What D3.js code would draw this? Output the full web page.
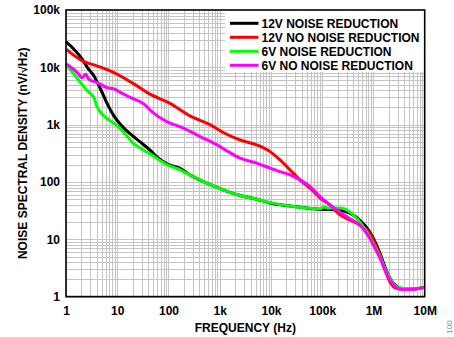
<!DOCTYPE html>
<html>
<head>
<meta charset="utf-8">
<script src="https://cdn.jsdelivr.net/npm/d3@7"></script>
<style>
  html, body { margin: 0; padding: 0; background: #fff; }
  svg { display: block; }
  text { font-family: "Liberation Sans", Arial, sans-serif; font-weight: bold; fill: #000; }
</style>
</head>
<body>
<svg id="chart" width="454" height="337"></svg>
<script>
// ---------- data ----------
const xTickValues = [1, 10, 100, 1e3, 1e4, 1e5, 1e6, 1e7];
const xTickLabels = ["1", "10", "100", "1k", "10k", "100k", "1M", "10M"];
const yTickValues = [1, 10, 100, 1e3, 1e4, 1e5];
const yTickLabels = ["1", "10", "100", "1k", "10k", "100k"];

const seriesNames = ["12V NOISE REDUCTION", "12V NO NOISE REDUCTION", "6V NOISE REDUCTION", "6V NO NOISE REDUCTION"];
const seriesColors = ["#000000", "#ff0000", "#00ff00", "#ff00ff"];

// 12V NOISE REDUCTION
const freq12NR = [1, 1.43, 2.08, 2.6, 3.5, 4.1, 5.1, 6.4, 8.6, 11.7, 18.3, 28, 43.6, 60, 100, 168, 262, 559, 1170, 2500, 5300, 9600, 23600, 58000, 100000, 140000, 220000, 345000, 540000, 845000, 1070000, 1340000, 1680000, 2100000, 2630000, 3300000, 5000000, 8000000, 10000000];
const val12NR  = [27800, 20700, 13800, 10000, 7100, 5400, 3600, 2300, 1420, 1000, 680, 500, 360, 270, 200, 172, 133, 95, 73, 58, 50, 43, 38, 34.5, 33, 33, 32.5, 28.5, 21.7, 13.5, 9.1, 5.7, 3.3, 2.1, 1.6, 1.4, 1.35, 1.4, 1.45];

// 12V NO NOISE REDUCTION
const freq12NNR = [1, 2.08, 2.6, 4.1, 8.6, 20, 43.6, 107, 262, 643, 1170, 2500, 5300, 9600, 15000, 23600, 37000, 58000, 92000, 140000, 220000, 345000, 540000, 845000, 1070000, 1340000, 1680000, 2100000, 2800000, 4000000, 6000000, 10000000];
const val12NNR  = [20700, 13000, 12000, 10500, 8100, 5300, 3400, 2350, 1420, 1000, 730, 540, 443, 338, 242, 162, 108, 78, 52, 40, 27, 21.7, 17.8, 12.7, 8.5, 5.3, 2.9, 1.8, 1.4, 1.35, 1.35, 1.45];

// 6V NOISE REDUCTION
const freq6NR = [1, 1.43, 1.93, 2.6, 3.5, 4.1, 5.5, 7.4, 10.1, 15.7, 20.6, 27.8, 43.6, 100, 150, 262, 559, 1170, 2500, 5300, 9600, 23600, 58000, 90000, 110000, 130000, 220000, 345000, 540000, 845000, 1070000, 1340000, 1680000, 2100000, 2800000, 3700000, 5000000, 8000000, 10000000];
const val6NR  = [11300, 7600, 5400, 3900, 2950, 2000, 1420, 1150, 950, 620, 470, 390, 309, 195, 170, 133, 95, 73, 58, 50, 43.6, 38, 34.7, 34, 36.5, 35, 35, 30, 20, 11, 7.4, 5, 3.1, 2.1, 1.5, 1.4, 1.35, 1.4, 1.45];

// 6V NO NOISE REDUCTION
const freq6NNR = [1, 1.66, 2.08, 2.42, 2.8, 4.1, 6.4, 8.6, 11.3, 18.3, 33, 48.4, 92, 195, 413, 875, 1370, 2500, 5300, 9600, 15000, 23600, 37000, 58000, 92000, 140000, 220000, 345000, 540000, 845000, 1070000, 1340000, 1680000, 2100000, 2630000, 3300000, 5200000, 8100000, 10000000];
const val6NNR  = [11500, 8100, 6600, 7600, 6200, 5400, 4400, 4200, 3700, 2950, 2300, 1650, 1130, 870, 620, 445, 350, 260, 213, 174, 151, 133, 108, 83, 55, 40, 30, 23, 17.8, 10.4, 7, 4.7, 2.9, 1.95, 1.5, 1.35, 1.33, 1.4, 1.45];

const seriesFreqs = [freq12NR, freq12NNR, freq6NR, freq6NNR];
const seriesVals = [val12NR, val12NNR, val6NR, val6NNR];

// ---------- layout ----------
const L = 66, R = 424.7, T = 10, B = 296.6;
const svg = d3.select("#chart");
const x = d3.scaleLog().domain([1, 1e7]).range([L, R]);
const y = d3.scaleLog().domain([1, 1e5]).range([B, T]);

// grid
const grid = svg.append("g").attr("stroke", "#c4c4c4").attr("stroke-width", 1).attr("shape-rendering", "crispEdges");
const xGrid = [];
for (let d = 1; d < 1e7; d *= 10) for (let k = 1; k <= 9; k++) xGrid.push(d * k);
const yGrid = [];
for (let d = 1; d < 1e5; d *= 10) for (let k = 1; k <= 9; k++) yGrid.push(d * k);
grid.selectAll("line.v").data(xGrid).join("line").attr("class", "v")
  .attr("x1", d => Math.round(x(d)) + 0.5).attr("x2", d => Math.round(x(d)) + 0.5)
  .attr("y1", T).attr("y2", B);
grid.selectAll("line.h").data(yGrid).join("line").attr("class", "h")
  .attr("y1", d => Math.round(y(d)) + 0.5).attr("y2", d => Math.round(y(d)) + 0.5)
  .attr("x1", L).attr("x2", R);

// legend background
svg.append("rect").attr("x", 225).attr("y", T).attr("width", R - 225).attr("height", 62).attr("fill", "#fff");

// curves
const line = d3.line().x(d => x(d[0])).y(d => y(d[1])).curve(d3.curveMonotoneX);
seriesNames.forEach((name, i) => {
  const pts = seriesFreqs[i].map((f, j) => [f, seriesVals[i][j]]);
  svg.append("path").datum(pts).attr("d", line)
    .attr("fill", "none").attr("stroke", seriesColors[i]).attr("stroke-width", 3)
    .attr("stroke-linejoin", "round");
});

// frame
svg.append("rect").attr("x", L).attr("y", T).attr("width", R - L).attr("height", B - T)
  .attr("fill", "none").attr("stroke", "#000").attr("stroke-width", 1.6);

// axes
const xAxis = d3.axisBottom(x).tickValues(xTickValues).tickFormat((d, i) => xTickLabels[i]).tickSize(0).tickPadding(9.5);
const gx = svg.append("g").attr("transform", `translate(0,${B})`).call(xAxis);
gx.select(".domain").remove();
gx.selectAll("text").style("font-size", "12px").style("font-family", "'Liberation Sans', Arial, sans-serif").style("font-weight", "bold").attr("fill", "#000");

const yAxis = d3.axisLeft(y).tickValues(yTickValues).tickFormat((d, i) => yTickLabels[i]).tickSize(0).tickPadding(6);
const gy = svg.append("g").attr("transform", `translate(${L},0)`).call(yAxis);
gy.select(".domain").remove();
gy.selectAll("text").style("font-size", "12px").style("font-family", "'Liberation Sans', Arial, sans-serif").style("font-weight", "bold").attr("fill", "#000");

// titles
svg.append("text").attr("x", (L + R) / 2).attr("y", 332).attr("text-anchor", "middle")
  .style("font-size", "12px").text("FREQUENCY (Hz)");
svg.append("text").attr("transform", `translate(27,${(T + B) / 2}) rotate(-90)`).attr("text-anchor", "middle")
  .style("font-size", "12px").text("NOISE SPECTRAL DENSITY (nV/\u221AHz)");

// legend
const lg = svg.append("g");
seriesNames.forEach((name, i) => {
  const cy = 23.3 + i * 14;
  lg.append("line").attr("x1", 230).attr("x2", 258.5).attr("y1", cy).attr("y2", cy)
    .attr("stroke", seriesColors[i]).attr("stroke-width", 3);
  lg.append("text").attr("x", 261.5).attr("y", cy + 4.3).style("font-size", "12px").text(name);
});

// figure id
svg.append("text").attr("transform", "translate(452,327) rotate(-90)").attr("text-anchor", "middle")
  .style("font-size", "8px").style("font-weight", "normal").style("fill", "#888").text("100");
</script>
</body>
</html>
